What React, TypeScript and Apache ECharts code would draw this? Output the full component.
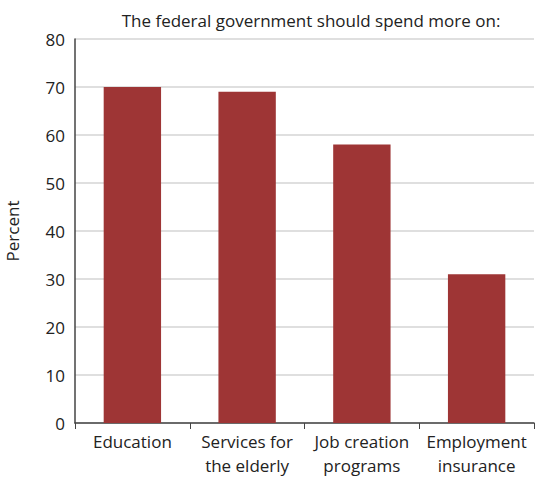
import React, { useEffect, useRef } from "react";
import * as echarts from "echarts";

const categories = ["Education", "Services for\nthe elderly", "Job creation\nprograms", "Employment\ninsurance"];
const values = [70, 69, 58, 31];
const titleText = "The federal government should spend more on:";
const yAxisName = "Percent";

export default function App() {
  const ref = useRef<HTMLDivElement>(null);
  useEffect(() => {
    const chart = echarts.init(ref.current!, null, { renderer: "svg" });
    const font = "'Open Sans', 'Noto Sans', sans-serif";
    chart.setOption({
      animation: false,
      title: {
        text: titleText,
        left: 306,
        textAlign: "center",
        top: 7,
        textStyle: { fontFamily: font, fontSize: 17, fontWeight: "normal", color: "#222" },
      },
      grid: { left: 75, right: 1, top: 39, bottom: 55, containLabel: false, outerBoundsMode: "none" },
      xAxis: {
        type: "category",
        data: categories,
        axisLine: { lineStyle: { color: "#444", width: 1.5 } },
        axisTick: { show: true, length: 6, lineStyle: { color: "#444" } },
        axisLabel: { interval: 0, fontFamily: font, fontSize: 17, color: "#222", lineHeight: 24, margin: 6 },
      },
      yAxis: {
        type: "value",
        min: 0,
        max: 80,
        interval: 10,
        name: yAxisName,
        nameLocation: "middle",
        nameGap: 54,
        nameTextStyle: { fontFamily: font, fontSize: 17, color: "#222" },
        axisLine: { show: true, lineStyle: { color: "#444", width: 1.5 } },
        axisTick: { show: false },
        axisLabel: { fontFamily: font, fontSize: 17, color: "#222", margin: 10 },
        splitLine: { lineStyle: { color: "#d4d4d4", width: 1.5 } },
      },
      series: [
        {
          type: "bar",
          data: values,
          barWidth: "50%",
          itemStyle: { color: "#9e3535" },
        },
      ],
    });
    return () => chart.dispose();
  }, []);
  return <div ref={ref} style={{ position: "absolute", left: 0, top: 0, width: 535, height: 478 }} />;
}
